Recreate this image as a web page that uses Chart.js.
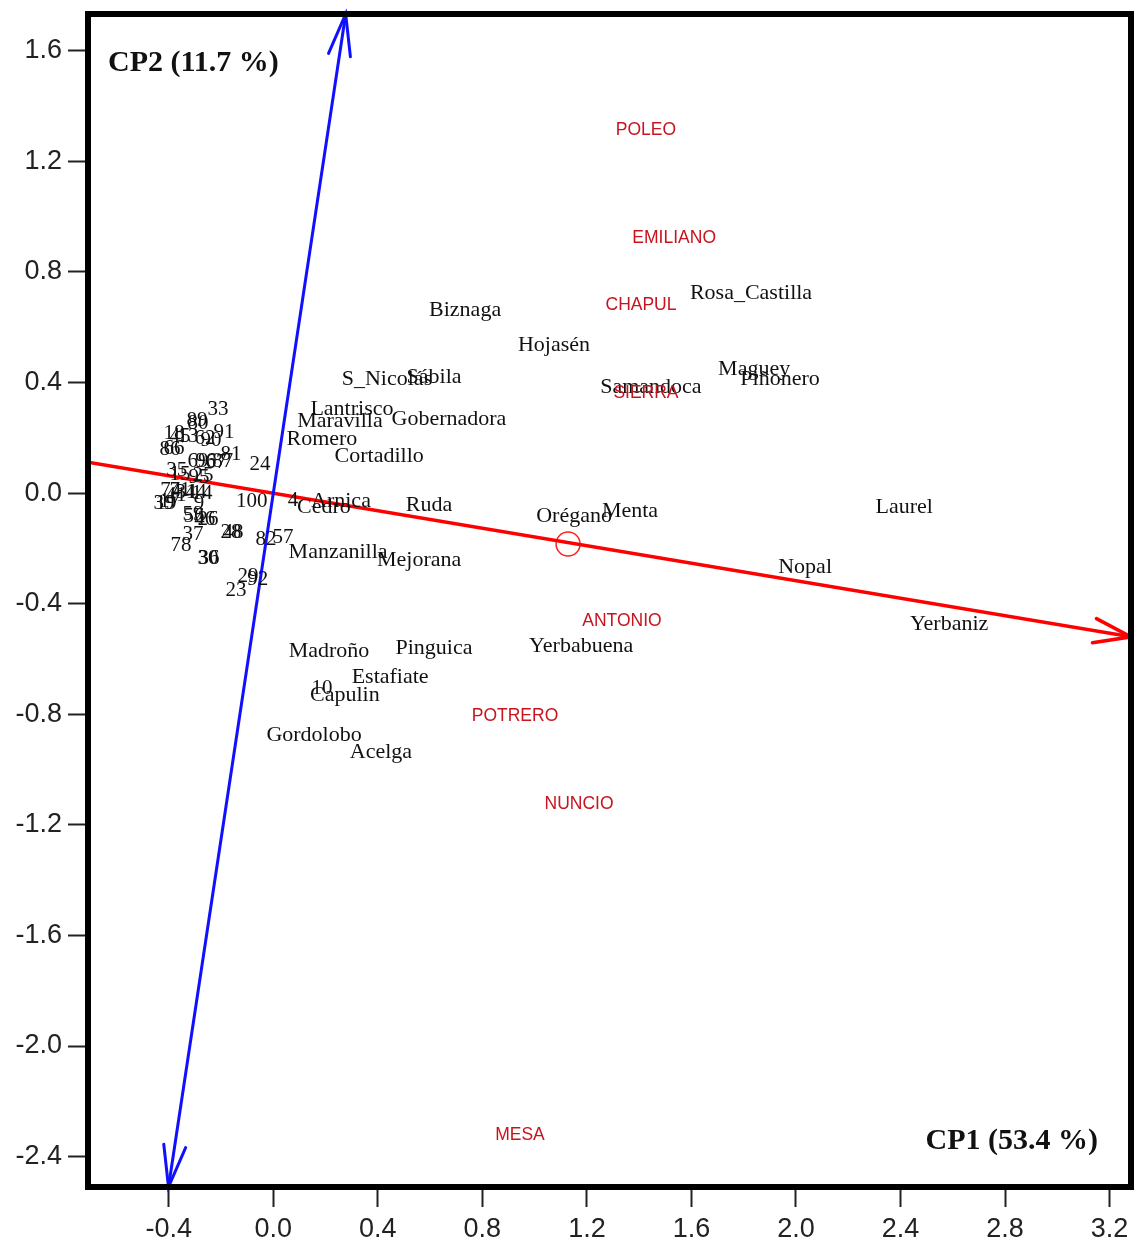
<!DOCTYPE html>
<html>
<head>
<meta charset="utf-8">
<title>Biplot CP1 / CP2</title>
<script src="https://cdn.jsdelivr.net/npm/chart.js@4.4.1/dist/chart.umd.min.js"></script>
<style>
    html, body { margin: 0; padding: 0; background: #fff; overflow: hidden; }
    #wrap { width: 1134px; height: 1247px; }
    canvas { display: block; }
</style>
</head>
<body>
<div id="wrap"><canvas id="chart1" width="1134" height="1247"></canvas></div>
<script>

// axis ranges and ticks
const xMin = -0.709, xMax = 3.282;
const yMin = -2.510, yMax = 1.733;
const xTicks = [-0.4, 0.0, 0.4, 0.8, 1.2, 1.6, 2.0, 2.4, 2.8, 3.2];
const yTicks = [1.6, 1.2, 0.8, 0.4, 0.0, -0.4, -0.8, -1.2, -1.6, -2.0, -2.4];

// plantas (black labels)
const plantNames = ['Biznaga', 'Hojasén', 'Rosa_Castilla', 'Maguey', 'Piñonero', 'Samandoca',
    'S_Nicolás', 'Sábila', 'Lantrisco', 'Maravilla', 'Gobernadora', 'Romero', 'Cortadillo',
    'Arnica', 'Cedro', 'Ruda', 'Orégano', 'Menta', 'Laurel', 'Nopal', 'Yerbaniz',
    'Manzanilla', 'Mejorana', 'Madroño', 'Pinguica', 'Yerbabuena', 'Estafiate', 'Capulin',
    'Gordolobo', 'Acelga'];
const plantX = [0.734, 1.074, 1.828, 1.840, 1.939, 1.445,
    0.435, 0.615, 0.301, 0.255, 0.672, 0.186, 0.405,
    0.259, 0.194, 0.596, 1.151, 1.365, 2.414, 2.035, 2.586,
    0.248, 0.558, 0.213, 0.615, 1.178, 0.447, 0.274,
    0.156, 0.412];
const plantY = [0.662, 0.536, 0.724, 0.449, 0.413, 0.384,
    0.413, 0.420, 0.304, 0.261, 0.268, 0.196, 0.134,
    -0.029, -0.050, -0.043, -0.083, -0.065, -0.050, -0.267, -0.473,
    -0.213, -0.242, -0.571, -0.561, -0.553, -0.665, -0.730,
    -0.875, -0.936];

// localidades (red labels)
const siteNames = ['POLEO', 'EMILIANO', 'CHAPUL', 'SIERRA', 'ANTONIO', 'POTRERO', 'NUNCIO', 'MESA'];
const siteX = [1.426, 1.534, 1.407, 1.426, 1.334, 0.925, 1.170, 0.944];
const siteY = [1.313, 0.922, 0.681, 0.362, -0.464, -0.806, -1.124, -2.322];

// informantes (numbered)
const obsIds = ['33', '89', '80', '91', '18', '45', '13', '62', '90', '86', '66', '81',
    '69', '96', '67', '87', '24', '35', '15', '95', '25', '74', '71', '31', '44', '14', '41',
    '39', '19', '17', '9', '100', '4', '59', '56', '26', '46', '37', '28', '48', '82', '57',
    '78', '30', '36', '29', '92', '23', '10'];
const obsX = [-0.212, -0.292, -0.288, -0.189, -0.380, -0.357, -0.326, -0.261, -0.238, -0.395, -0.380, -0.162,
    -0.288, -0.258, -0.219, -0.193, -0.051, -0.369, -0.357, -0.284, -0.269, -0.392, -0.357, -0.334, -0.296, -0.273, -0.372,
    -0.418, -0.411, -0.396, -0.284, -0.082, 0.075, -0.307, -0.303, -0.250, -0.262, -0.307, -0.162, -0.154, -0.028, 0.037,
    -0.353, -0.250, -0.246, -0.097, -0.059, -0.143, 0.186];
const obsY = [0.301, 0.261, 0.253, 0.221, 0.214, 0.206, 0.203, 0.199, 0.189, 0.156, 0.163, 0.141,
    0.116, 0.116, 0.112, 0.116, 0.105, 0.080, 0.069, 0.055, 0.062, 0.011, 0.008, 0.004, 0.004, 0.000, -0.007,
    -0.036, -0.039, -0.032, -0.039, -0.032, -0.025, -0.079, -0.086, -0.097, -0.094, -0.148, -0.141, -0.144, -0.166, -0.159,
    -0.191, -0.235, -0.235, -0.303, -0.314, -0.354, -0.708];

// component axes and centroid
const cp1X = [-0.709, 3.282], cp1Y = [0.112, -0.520];
const cp2X = [-0.401, 0.277], cp2Y = [-2.510, 1.733];
const centroidX = [1.128], centroidY = [-0.184];

const toPoints = (xs, ys) => xs.map((x, i) => ({ x: x, y: ys[i] }));

const serif = '"Liberation Serif", "Times New Roman", serif';
const sans = '"Liberation Sans", Arial, sans-serif';

// text at each point of a dataset that has a labels array
const pointLabels = {
    id: 'pointLabels',
    afterDatasetsDraw(chart) {
        const ctx = chart.ctx;
        chart.data.datasets.forEach((ds, i) => {
            if (!ds.labels) return;
            const meta = chart.getDatasetMeta(i);
            ctx.save();
            ctx.font = ds.labelFont;
            ctx.fillStyle = ds.labelColor;
            ctx.textAlign = 'center';
            ctx.textBaseline = 'middle';
            meta.data.forEach((pt, j) => {
                ctx.fillText(ds.labels[j], pt.x, pt.y);
            });
            ctx.restore();
        });
    }
};

// open arrow heads on the axis lines
const arrowHeads = {
    id: 'arrowHeads',
    afterDatasetsDraw(chart) {
        const ctx = chart.ctx;
        chart.data.datasets.forEach((ds, i) => {
            if (!ds.arrows) return;
            const pts = chart.getDatasetMeta(i).data;
            const a = pts[0], b = pts[pts.length - 1];
            const heads = [];
            if (ds.arrows.includes('end')) heads.push([b, a]);
            if (ds.arrows.includes('start')) heads.push([a, b]);
            ctx.save();
            ctx.strokeStyle = ds.borderColor;
            ctx.lineWidth = ds.borderWidth;
            ctx.lineCap = 'round';
            heads.forEach(([tip, from]) => {
                const ang = Math.atan2(from.y - tip.y, from.x - tip.x);
                const len = ds.arrowLength, spread = ds.arrowSpread;
                ctx.beginPath();
                ctx.moveTo(tip.x + len * Math.cos(ang - spread), tip.y + len * Math.sin(ang - spread));
                ctx.lineTo(tip.x, tip.y);
                ctx.lineTo(tip.x + len * Math.cos(ang + spread), tip.y + len * Math.sin(ang + spread));
                ctx.stroke();
            });
            ctx.restore();
        });
    }
};

// thick box round the plot and the two axis captions
const frame = {
    id: 'frame',
    afterDraw(chart) {
        const ctx = chart.ctx;
        const a = chart.chartArea;
        ctx.save();
        ctx.strokeStyle = '#000';
        ctx.lineWidth = 6;
        ctx.strokeRect(a.left, a.top, a.right - a.left, a.bottom - a.top);

        ctx.fillStyle = '#111';
        ctx.font = 'bold 30px ' + serif;
        ctx.textBaseline = 'alphabetic';
        ctx.textAlign = 'left';
        ctx.fillText('CP2 (11.7 %)', a.left + 20, a.top + 57);
        ctx.textAlign = 'right';
        ctx.fillText('CP1 (53.4 %)', a.right - 33, a.bottom - 38);
        ctx.restore();
    }
};

const config_biplot = {
    type: 'scatter',
    data: {
        datasets: [
            {
                type: 'line',
                data: toPoints(cp2X, cp2Y),
                borderColor: '#1010ff',
                borderWidth: 3,
                pointRadius: 0,
                showLine: true,
                arrows: ['start', 'end'],
                arrowLength: 43,
                arrowSpread: 0.26,
            },
            {
                type: 'line',
                data: toPoints(cp1X, cp1Y),
                borderColor: '#ff0000',
                borderWidth: 3.5,
                pointRadius: 0,
                showLine: true,
                arrows: ['end'],
                arrowLength: 39,
                arrowSpread: 0.32,
            },
            {
                data: toPoints(centroidX, centroidY),
                pointRadius: 12,
                pointBorderWidth: 1.5,
                pointBorderColor: '#ff2020',
                pointBackgroundColor: 'rgba(0,0,0,0)',
            },
            {
                data: toPoints(obsX, obsY),
                pointRadius: 0,
                labels: obsIds,
                labelFont: '21px ' + serif,
                labelColor: '#111',
            },
            {
                data: toPoints(plantX, plantY),
                pointRadius: 0,
                labels: plantNames,
                labelFont: '22px ' + serif,
                labelColor: '#111',
            },
            {
                data: toPoints(siteX, siteY),
                pointRadius: 0,
                labels: siteNames,
                labelFont: '17.5px ' + sans,
                labelColor: '#c8141e',
            },
        ],
    },
    options: {
        responsive: false,
        animation: false,
        events: [],
        layout: {
            autoPadding: false,
            padding: { left: 0, top: 14, right: 3, bottom: 0 },
        },
        plugins: {
            legend: { display: false },
            tooltip: { enabled: false },
        },
        scales: {
            x: {
                type: 'linear',
                min: xMin,
                max: xMax,
                afterBuildTicks: (scale) => { scale.ticks = xTicks.map(v => ({ value: v })); },
                afterFit: (scale) => {
                    scale.height = 60;
                    scale.paddingLeft = 0;
                    scale.paddingRight = 0;
                },
                grid: { drawOnChartArea: false, tickLength: 20, tickWidth: 2, tickColor: '#222' },
                border: { display: false },
                ticks: {
                    callback: (v) => Number(v).toFixed(1),
                    font: { family: sans, size: 27 },
                    color: '#222',
                    padding: 6,
                    maxRotation: 0,
                    autoSkip: false,
                },
            },
            y: {
                type: 'linear',
                min: yMin,
                max: yMax,
                afterBuildTicks: (scale) => { scale.ticks = yTicks.map(v => ({ value: v })); },
                afterFit: (scale) => {
                    scale.width = 88;
                    scale.paddingTop = 0;
                    scale.paddingBottom = 0;
                },
                grid: { drawOnChartArea: false, tickLength: 20, tickWidth: 2, tickColor: '#222' },
                border: { display: false },
                ticks: {
                    callback: (v) => Number(v).toFixed(1),
                    font: { family: sans, size: 27 },
                    color: '#222',
                    padding: 6,
                    autoSkip: false,
                },
            },
        },
    },
    plugins: [arrowHeads, pointLabels, frame],
};

const ctx_biplot = document.getElementById('chart1').getContext('2d');
const biplot = new Chart(ctx_biplot, config_biplot);
</script>
</body>
</html>
